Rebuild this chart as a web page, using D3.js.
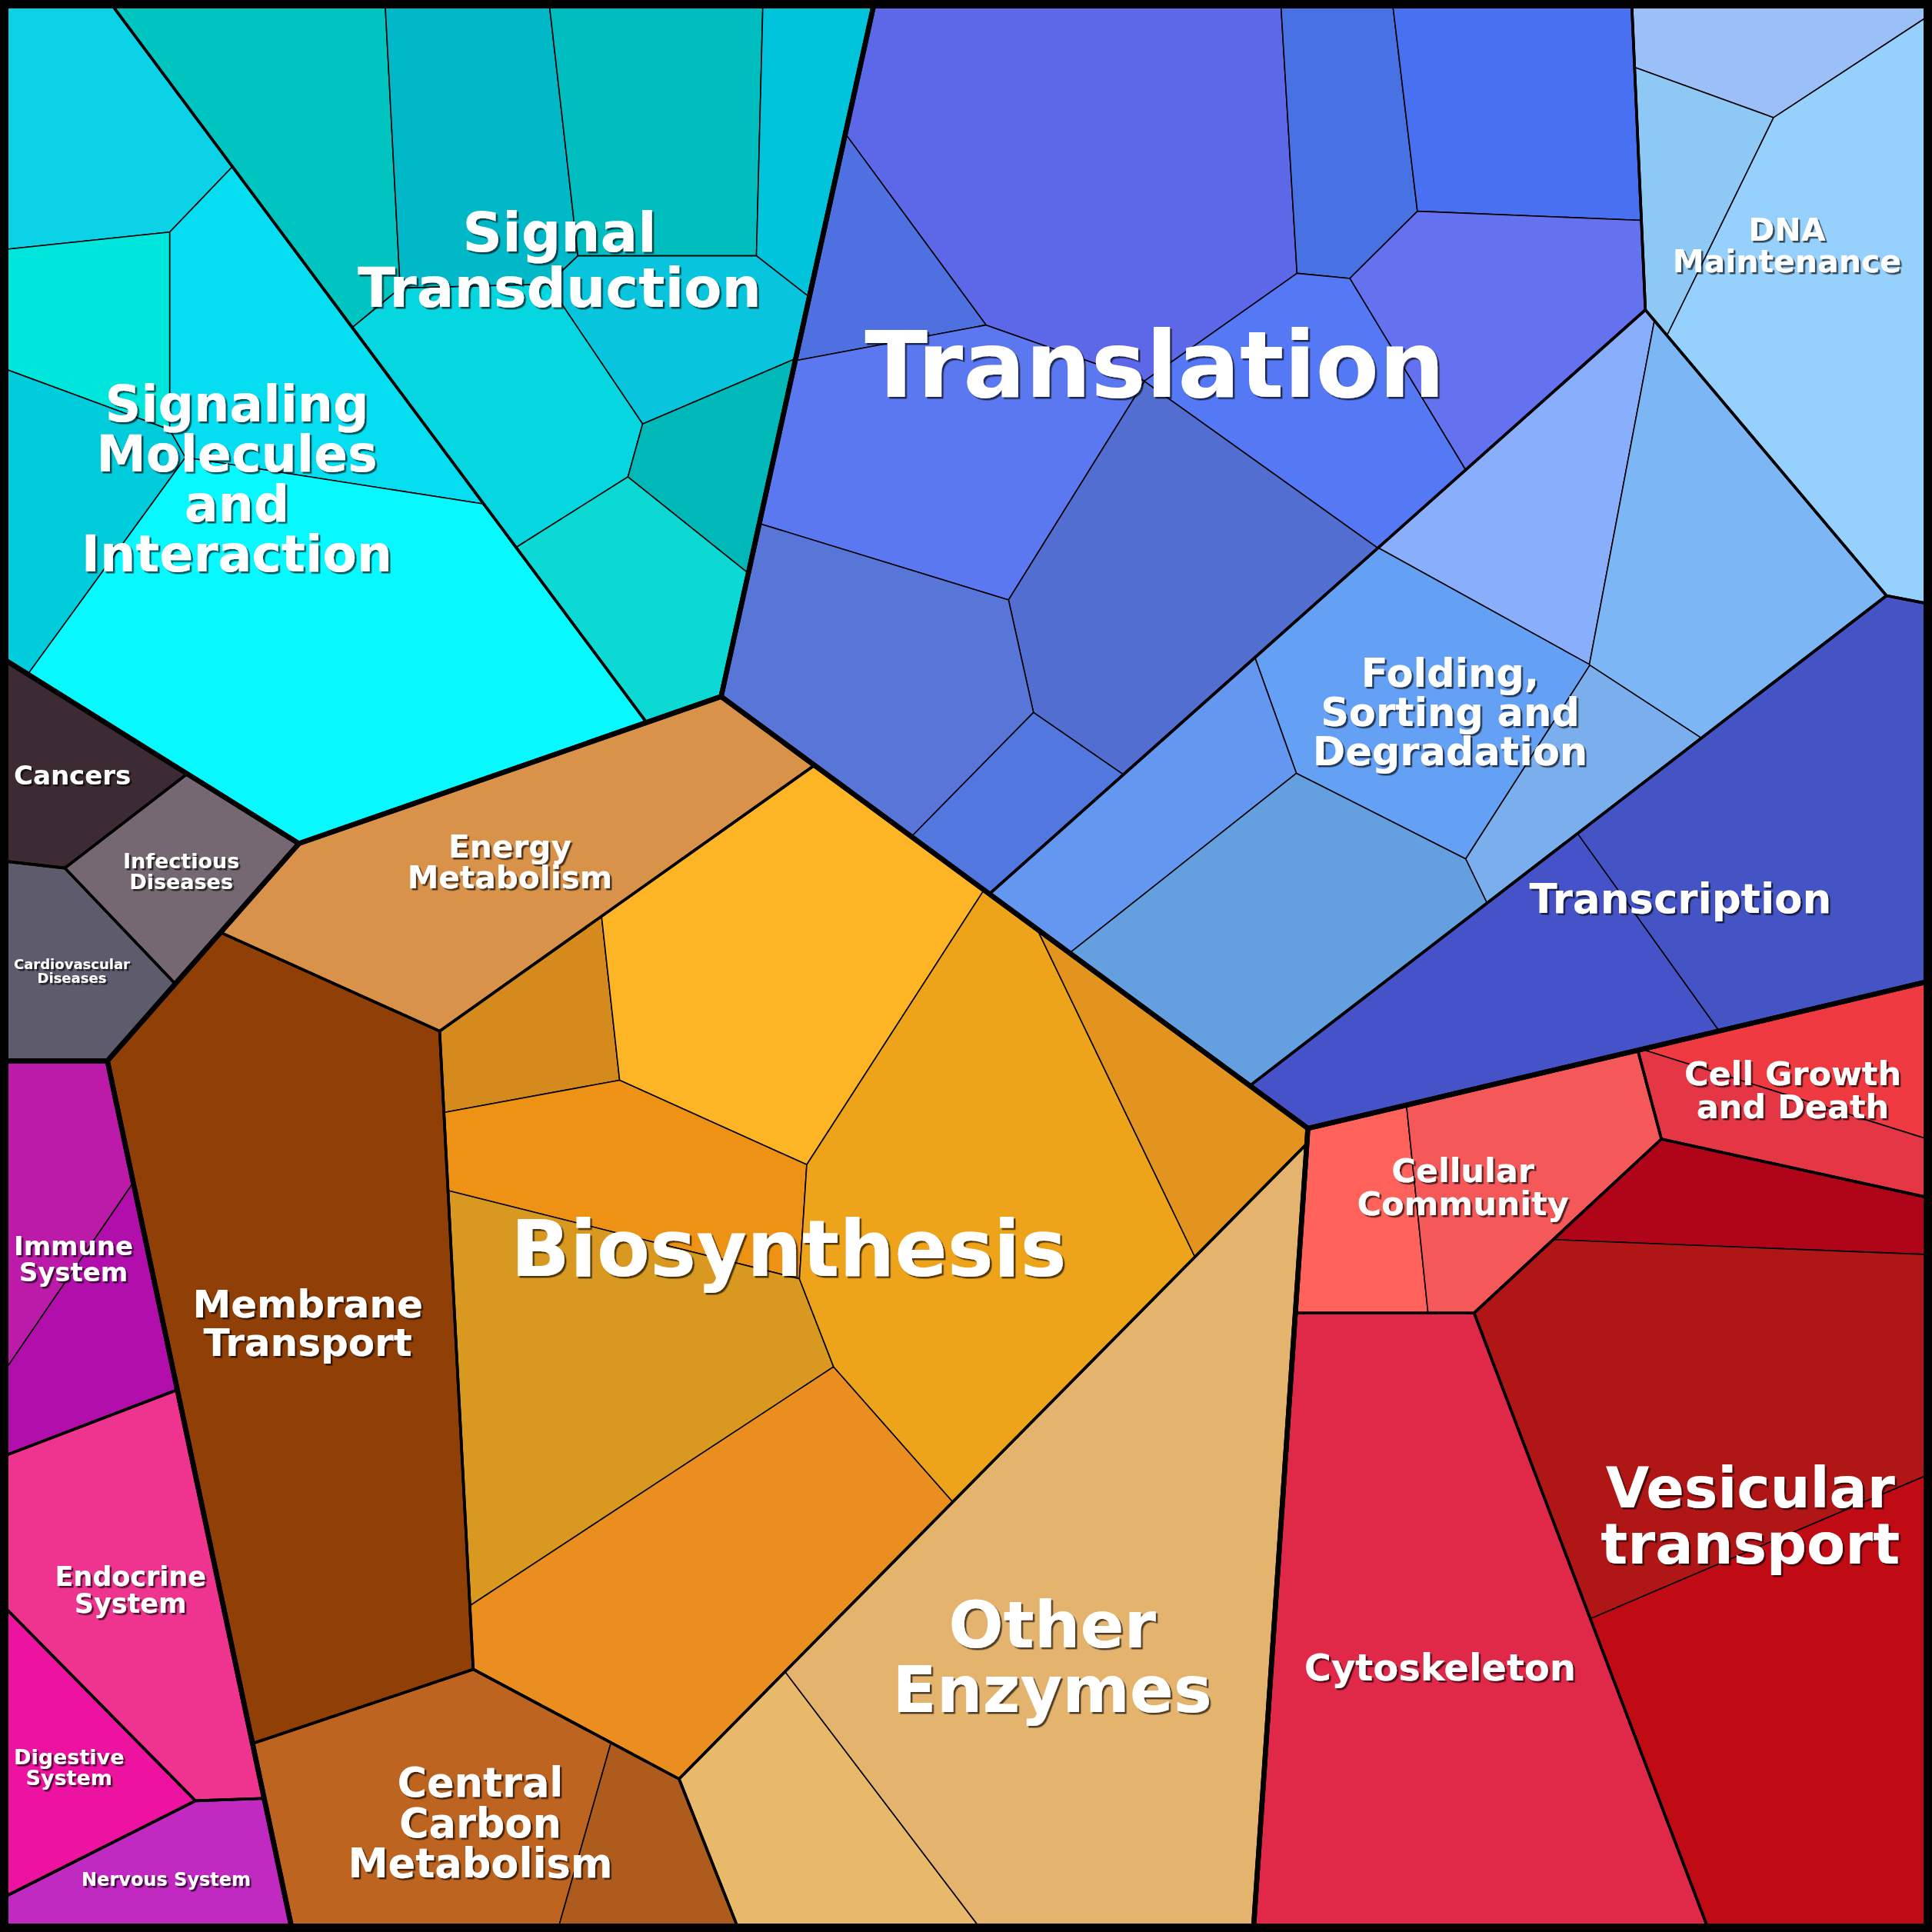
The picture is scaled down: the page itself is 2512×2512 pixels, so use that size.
<!DOCTYPE html>
<html><head><meta charset="utf-8">
<script src="https://cdn.jsdelivr.net/npm/d3@7"></script>
<style>html,body{margin:0;padding:0;background:#fff}</style>
</head><body><div id="chart"></div>
<script>
const W = 2512;

// ---------------- data ----------------
const groupNames = ["Environmental Information Processing","Genetic Information Processing","Metabolism","Cellular Processes","Organismal Systems","Human Diseases"];
const categoryNames = ["Signaling Molecules and Interaction","Signal Transduction","Translation","DNA Maintenance","Folding, Sorting and Degradation","Transcription","Energy Metabolism","Biosynthesis","Membrane Transport","Central Carbon Metabolism","Other Enzymes","Cell Growth and Death","Cellular Community","Vesicular transport","Cytoskeleton","Immune System","Endocrine System","Digestive System","Nervous System","Cancers","Infectious Diseases","Cardiovascular Diseases"];
const categoryGroup = [0,0,1,1,1,1,2,2,2,2,2,3,3,3,3,4,4,4,4,5,5,5];
const categoryLabelLines = [["Signaling","Molecules","and","Interaction"],["Signal","Transduction"],["Translation"],["DNA","Maintenance"],["Folding,","Sorting and","Degradation"],["Transcription"],["Energy","Metabolism"],["Biosynthesis"],["Membrane","Transport"],["Central","Carbon","Metabolism"],["Other","Enzymes"],["Cell Growth","and Death"],["Cellular","Community"],["Vesicular","transport"],["Cytoskeleton"],["Immune","System"],["Endocrine","System"],["Digestive","System"],["Nervous System"],["Cancers"],["Infectious","Diseases"],["Cardiovascular","Diseases"]];
const leafCategory = [0,0,0,0,0, 1,1,1,1,1,1,1,1, 2,2,2,2,2,2,2,2,2,2, 3,3,3, 4,4,4,4,4,4, 5,5, 6, 7,7,7,7,7,7,7, 8, 9,9, 10,10, 11,11, 12,12, 13,13,13, 14, 15,15, 16, 17, 18, 19, 20, 21];
const leafValues = [28.2,17.5,21.7,35.1,95.3,
  34.4,32.0,32.9,15.4,19.3,29.5,12.3,21.3,
  87.7,13.6,45.5,20.1,32.7,31.1,29.7,50.0,39.8,11.7,
  15.3,13.3,62.2,
  27.9,41.7,39.2,14.3,22.4,43.8,
  40.5,64.2,
  58.2,
  14.1,59.5,29.4,60.3,64.1,90.6,19.3,
  135.5,
  47.2,14.0,
  28.2,148.5,
  15.2,13.2,
  14.9,26.9,
  18.0,82.0,74.2,
  128.7,
  18.1,16.5,
  42.8, 19.0, 17.7, 14.8, 16.0, 16.4];

// ---------------- layout seeds (power-diagram sites, reading units 0..1568) ----------------
const groupSiteX = [339,1073,613,1231,119,119];
const groupSiteY = [277,439,1064,1106,1169,629];
const categorySiteX = [196,451,935,1474,1154,1368,413,640,260,403,894,1470,1180,1401,1180,37,130,59,138,69,136,50];
const categorySiteY = [394,204,270,246,516,794,690,1010,1030,1455,1261,883,960,1198,1282,1047,1290,1360,1517,626,713,795];
const leafSiteX = [56,75,30,245,206,
  225,395,527,644,527,401,585,500,
  886,765,796,1086,1245,1238,1061,976,746,862,
  1420,1386,1527,
  1255,1419,1155,1272,979,1067,
  1223,1449,
  413,
  491,600,521,472,562,910,964,
  260,
  352,521,
  658,888,
  1479,1457,
  1100,1235,
  1406,1400,1498,
  1180,
  17,99,
  130,59,138,69,136,50];
const leafSiteY = [74,255,377,255,505,
  119,110,95,98,248,333,384,490,
  131,220,386,119,100,272,379,498,549,663,
  30,124,193,
  400,431,581,656,644,755,
  824,662,
  690,
  782,770,945,1140,1277,970,944,
  1030,
  1466,1514,
  1490,1315,
  852,922,
  977,963,
  1000,1150,1380,
  1282,
  997,1053,
  1290,1360,1517,626,713,795];

// ---------------- styles ----------------
const leafColors = ["#0cd2e8","#00e6dc","#00ccdc","#04def0","#08f8ff",
  "#00c4c0","#00b8c8","#00bec0","#00c4dc","#08c4dc","#06d6e0","#00b8b8","#0cd8d4",
  "#5d68e8","#4f70e0","#5b78f0","#4872e4","#4870f0","#6472f0","#5578f4","#526ed0","#5876d8","#5278e0",
  "#9bc0f8","#8ec8f4","#96d0fc",
  "#88aefc","#7cb6f4","#64a0f4","#7aaeec","#6498f0","#64a0e0",
  "#4652c8","#4454c4",
  "#d9924a",
  "#d48a1c","#fdb526","#ee9216","#d99820","#ea8e20","#eea41a","#e2941e",
  "#904006",
  "#bd6420","#ad5c1e",
  "#e8b96a","#e4b46e",
  "#ee3a40","#e43644",
  "#fe625a","#f45858",
  "#b00418","#b01616","#c00a14",
  "#e02848",
  "#bc1aa8","#b20eac",
  "#ee348e","#ee12a0","#c02ac0","#3d2b33","#766872","#5e5c6c"];
const categoryFontSize = [65,72,120,41,51,53,40.7,101,50,52.5,84,43,43,73,48,34,35,27,24,34,27,18];

// ---------------- power diagram treemap ----------------
const S = d3.scaleLinear().domain([0,1568]).range([0,W]);

function clipHalf(poly, ax, ay, b, label){
  const out=[]; const n=poly.length;
  for(let k=0;k<n;k++){
    const P=poly[k], Q=poly[(k+1)%n];
    const fp=ax*P.x+ay*P.y-b, fq=ax*Q.x+ay*Q.y-b;
    const pin=fp<=0, qin=fq<=0;
    if(pin){
      out.push(P);
      if(!qin){const t=fp/(fp-fq); out.push({x:P.x+t*(Q.x-P.x),y:P.y+t*(Q.y-P.y),e:label});}
    } else if(qin){
      const t=fp/(fp-fq); out.push({x:P.x+t*(Q.x-P.x),y:P.y+t*(Q.y-P.y),e:P.e});
    }
  }
  return out;
}
function powerCells(sites,w,base){
  const n=sites.length, cells=[];
  for(let i=0;i<n;i++){
    let poly=base; const si=sites[i];
    for(let j=0;j<n&&poly.length;j++){
      if(j===i) continue;
      const sj=sites[j];
      const ax=2*(sj[0]-si[0]), ay=2*(sj[1]-si[1]);
      const b=(sj[0]*sj[0]+sj[1]*sj[1])-(si[0]*si[0]+si[1]*si[1])-w[j]+w[i];
      poly=clipHalf(poly,ax,ay,b,j);
    }
    cells.push(poly);
  }
  return cells;
}
function polyArea(c){ if(c.length<3) return 0; return Math.abs(d3.polygonArea(c.map(p=>[p.x,p.y]))); }
function errOf(a,t){ let s=0; for(let i=0;i<a.length;i++) s+=(a[i]-t[i])**2; return s; }
function solve(A,b){
  const n=b.length; A=A.map(r=>r.slice()); b=b.slice();
  for(let c=0;c<n;c++){
    let p=c; for(let r=c+1;r<n;r++) if(Math.abs(A[r][c])>Math.abs(A[p][c])) p=r;
    [A[c],A[p]]=[A[p],A[c]]; [b[c],b[p]]=[b[p],b[c]];
    const piv=A[c][c]; if(Math.abs(piv)<1e-12) continue;
    for(let r=c+1;r<n;r++){ const f=A[r][c]/piv; if(!f) continue; for(let k=c;k<n;k++) A[r][k]-=f*A[c][k]; b[r]-=f*b[c]; }
  }
  const x=new Array(n).fill(0);
  for(let r=n-1;r>=0;r--){ let s=b[r]; for(let k=r+1;k<n;k++) s-=A[r][k]*x[k]; x[r]=Math.abs(A[r][r])<1e-12?0:s/A[r][r]; }
  return x;
}
function powerTreemap(sites,targets,clip){
  const n=sites.length;
  if(n===1) return [clip.slice()];
  const base=clip.map(p=>({x:p[0],y:p[1],e:-1}));
  let w=new Array(n).fill(0);
  let cells=powerCells(sites,w,base), areas=cells.map(polyArea), err=errOf(areas,targets);
  const tot=d3.sum(targets);
  for(let it=0;it<300;it++){
    if(Math.sqrt(err)<1e-7*tot) break;
    const H=Array.from({length:n},()=>new Array(n).fill(0));
    cells.forEach((poly,i)=>{
      for(let k=0;k<poly.length;k++){
        const P=poly[k], Q=poly[(k+1)%poly.length], e=P.e;
        if(e<0) continue;
        const len=Math.hypot(Q.x-P.x,Q.y-P.y);
        const d=Math.hypot(sites[e][0]-sites[i][0],sites[e][1]-sites[i][1]);
        const c=len/(2*d); H[i][i]+=c; H[i][e]-=c;
      }
    });
    const g=targets.map((t,i)=>t-areas[i]);
    let maxd=0; for(let i=0;i<n;i++) maxd=Math.max(maxd,H[i][i]);
    const Hr=[], gr=[];
    for(let i=1;i<n;i++){ Hr.push(H[i].slice(1)); gr.push(g[i]); }
    for(let i=0;i<n-1;i++) Hr[i][i]+=1e-9*maxd+1e-12;
    const dw=[0,...solve(Hr,gr)];
    let step=1, ok=false;
    while(step>1e-7){
      const w2=w.map((v,i)=>v+step*dw[i]);
      const c2=powerCells(sites,w2,base), a2=c2.map(polyArea), e2=errOf(a2,targets);
      if(a2.every(a=>a>1e-6)&&e2<err){ w=w2; cells=c2; areas=a2; err=e2; ok=true; break; }
      step/=2;
    }
    if(!ok) break;
  }
  return cells.map(c=>c.map(p=>[p.x,p.y]));
}
function insideSite(s,clip){
  if(d3.polygonContains(clip,s)) return s;
  const c=d3.polygonCentroid(clip);
  for(let t=0.02;t<=1;t+=0.02){
    const p=[s[0]+t*(c[0]-s[0]), s[1]+t*(c[1]-s[1])];
    if(d3.polygonContains(clip,p)) return [p[0]+0.03*(c[0]-p[0]), p[1]+0.03*(c[1]-p[1])];
  }
  return c;
}

// ---------------- hierarchy ----------------
const rootData = {name:"root", children: groupNames.map((g,gi)=>({
  name:g, group:gi,
  children: categoryNames.map((c,ci)=>({c,ci})).filter(d=>categoryGroup[d.ci]===gi).map(d=>({
    name:d.c, cat:d.ci,
    children: leafValues.map((v,li)=>({v,li})).filter(l=>leafCategory[l.li]===d.ci).map(l=>({name:d.c+" #"+l.li, leaf:l.li, value:l.v}))
  }))
}))};
const root = d3.hierarchy(rootData).sum(d=>d.value||0);
root.each(n=>{
  if(n.depth===1) n.site=[S(groupSiteX[n.data.group]),S(groupSiteY[n.data.group])];
  else if(n.depth===2) n.site=[S(categorySiteX[n.data.cat]),S(categorySiteY[n.data.cat])];
  else if(n.depth===3) n.site=[S(leafSiteX[n.data.leaf]),S(leafSiteY[n.data.leaf])];
});
root.polygon=[[0,0],[W,0],[W,W],[0,W]];
(function layout(node){
  if(!node.children) return;
  const clip=node.polygon, A=Math.abs(d3.polygonArea(clip));
  const kids=node.children, total=d3.sum(kids,k=>k.value);
  const targets=kids.map(k=>A*k.value/total);
  const sites=kids.map(k=>insideSite(k.site,clip));
  const cells=powerTreemap(sites,targets,clip);
  kids.forEach((k,i)=>{k.polygon=cells[i]; layout(k);});
})(root);

// ---------------- draw ----------------
const svg=d3.select("#chart").append("svg").attr("width",W).attr("height",W).attr("viewBox",`0 0 ${W} ${W}`);
const defs=svg.append("defs");
defs.append("filter").attr("id","shadow").attr("x","-10%").attr("y","-10%").attr("width","120%").attr("height","130%")
  .append("feDropShadow").attr("dx",2.5).attr("dy",2.5).attr("stdDeviation",0.6).attr("flood-color","#000").attr("flood-opacity",0.65);
const pathOf=p=>"M"+p.map(q=>q[0].toFixed(2)+","+q[1].toFixed(2)).join("L")+"Z";

svg.append("g").selectAll("path").data(root.leaves()).join("path")
  .attr("d",d=>pathOf(d.polygon)).attr("fill",d=>leafColors[d.data.leaf])
  .attr("stroke","#000").attr("stroke-width",1.6).attr("stroke-linejoin","round");
svg.append("g").selectAll("path").data(root.descendants().filter(d=>d.depth===2)).join("path")
  .attr("d",d=>pathOf(d.polygon)).attr("fill","none").attr("stroke","#000").attr("stroke-width",3.6).attr("stroke-linejoin","round");
svg.append("g").selectAll("path").data(root.descendants().filter(d=>d.depth===1)).join("path")
  .attr("d",d=>pathOf(d.polygon)).attr("fill","none").attr("stroke","#000").attr("stroke-width",6.5).attr("stroke-linejoin","round");
svg.append("rect").attr("x",0).attr("y",0).attr("width",W).attr("height",W).attr("fill","none").attr("stroke","#000").attr("stroke-width",22);

const labels=svg.append("g").attr("font-family","'DejaVu Sans', sans-serif").attr("font-weight","bold")
  .attr("text-anchor","middle").attr("fill","#fff").attr("filter","url(#shadow)");
root.descendants().filter(d=>d.depth===2).forEach(d=>{
  const ci=d.data.cat, fs=categoryFontSize[ci], lines=categoryLabelLines[ci];
  const [cx,cy]=d3.polygonCentroid(d.polygon);
  const t=labels.append("text").attr("font-size",fs);
  const y0=cy-(lines.length-1)/2*fs+0.36*fs;
  lines.forEach((s,k)=>t.append("tspan").attr("x",cx).attr("y",y0+k*fs).text(s));
  let wmax=0; t.selectAll("tspan").each(function(){wmax=Math.max(wmax,this.getComputedTextLength());});
  let shift=0;
  if(cx-wmax/2<18) shift=18-(cx-wmax/2);
  if(cx+wmax/2>W-40) shift=(W-40)-(cx+wmax/2);
  if(shift) t.selectAll("tspan").attr("x",cx+shift);
});
</script></body></html>
